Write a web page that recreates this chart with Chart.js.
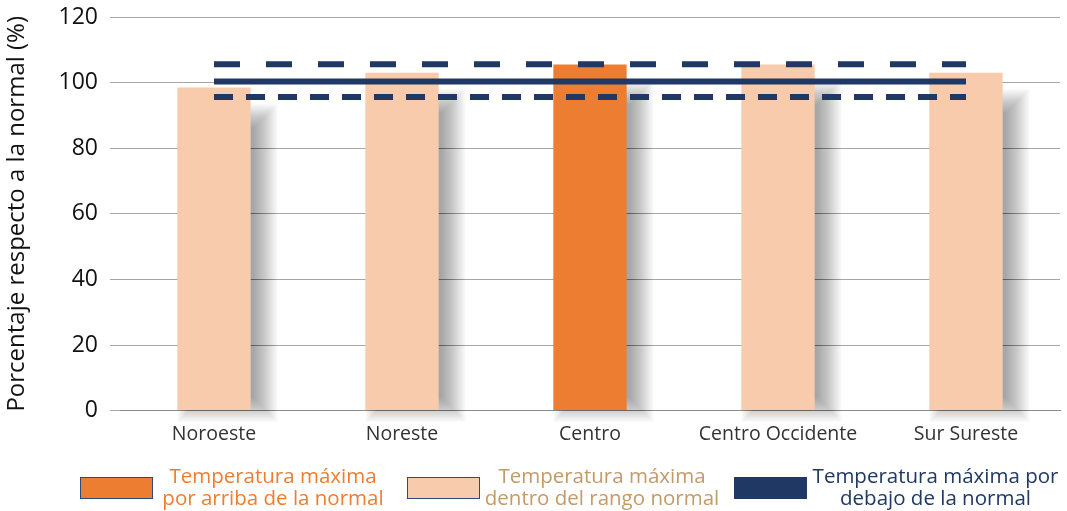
<!DOCTYPE html>
<html>
<head>
<meta charset="utf-8">
<script src="https://cdn.jsdelivr.net/npm/chart.js@4.4.1/dist/chart.umd.min.js"></script>
<style>
  html, body { margin: 0; padding: 0; background: #fff; }
  #wrap { position: relative; width: 1067px; height: 511px; }
  canvas { position: absolute; left: 0; top: 0; }
  .leg-box { position: absolute; top: 477px; width: 71px; height: 20px; border: 1px solid #2E4A7D; }
  .leg-text { position: absolute; top: 464px; font-family: "Open Sans", sans-serif; font-size: 20.5px; line-height: 22px; text-align: center; white-space: nowrap; }
</style>
</head>
<body>
<div id="wrap">
  <canvas id="c" width="1067" height="511"></canvas>
  <div class="leg-box" style="left:80px;background:#ED7D31;"></div>
  <div class="leg-text" style="left:160px;width:226px;color:#ED7D31;">Temperatura máxima<br>por arriba de la normal</div>
  <div class="leg-box" style="left:407px;background:#F8CBAD;"></div>
  <div class="leg-text" style="left:480px;width:244px;color:#C49A66;">Temperatura máxima<br>dentro del rango normal</div>
  <div class="leg-box" style="left:734px;background:#1F3864;border-color:#1F3864;"></div>
  <div class="leg-text" style="left:808px;width:255px;color:#1F3864;">Temperatura máxima por<br>debajo de la normal</div>
</div>
<script>
const categories = ["Noroeste", "Noreste", "Centro", "Centro Occidente", "Sur Sureste"];
const values = [98.5, 103, 105.5, 105.5, 103];
const status = ["dentro", "dentro", "arriba", "dentro", "dentro"];
const normalLine = [100.3, 100.3, 100.3, 100.3, 100.3];
const upperLimit = [105.6, 105.6, 105.6, 105.6, 105.6];
const lowerLimit = [95.6, 95.6, 95.6, 95.6, 95.6];
const yTicks = [0, 20, 40, 60, 80, 100, 120];

const statusColor = { arriba: "#ED7D31", dentro: "#F8CBAD", debajo: "#1F3864" };
const barColors = status.map(s => statusColor[s]);

// soft grey drop shadow behind each bar (layered translucent rects = box blur)
const shadowPlugin = {
  id: "barShadow",
  beforeDatasetsDraw(chart) {
    const meta = chart.getDatasetMeta(3);
    const ctx = chart.ctx;
    ctx.save();
    const L = 12;
    const a = 0.5 / (2 * L + 1);
    meta.data.forEach((bar) => {
      const p = bar.getProps(["x", "y", "base", "width"], true);
      const left = p.x - p.width / 2 + 12;
      const right = p.x + p.width / 2 + 15;
      const top = p.y + 28;
      const bottom = p.base;
      ctx.fillStyle = "rgba(0,0,0," + a + ")";
      for (let k = -L; k <= L; k++) {
        ctx.fillRect(left - k, top - k, (right - left) + 2 * k, (bottom - top) + 2 * k);
      }
    });
    ctx.restore();
  }
};

new Chart(document.getElementById("c"), {
  data: {
    labels: categories,
    datasets: [
      { type: "line", data: upperLimit, borderColor: "#1F3864", borderWidth: 6, borderDash: [26, 26], pointRadius: 0, order: 0 },
      { type: "line", data: normalLine, borderColor: "#1F3864", borderWidth: 6, pointRadius: 0, order: 0 },
      { type: "line", data: lowerLimit, borderColor: "#1F3864", borderWidth: 6, borderDash: [19, 13], pointRadius: 0, order: 0 },
      { type: "bar", data: values, backgroundColor: barColors, barPercentage: 0.39, categoryPercentage: 1, order: 1 }
    ]
  },
  options: {
    responsive: false,
    animation: false,
    layout: { padding: { left: 0, right: 7, top: 17, bottom: 61 } },
    plugins: { legend: { display: false }, tooltip: { enabled: false } },
    scales: {
      x: {
        grid: { display: false },
        border: { display: true, color: "#8C8C8C", width: 1 },
        ticks: { color: "#333333", font: { family: "Open Sans", size: 19.5 }, padding: 4, maxRotation: 0 }
      },
      y: {
        min: 0, max: 120,
        afterBuildTicks(scale) { scale.ticks = yTicks.map(v => ({ value: v })); },
        afterFit(scale) { scale.width = 120; scale.paddingTop = 0; scale.paddingBottom = 0; },
        grid: { color: "#A6A6A6", lineWidth: 1, tickLength: 10, drawTicks: true },
        border: { display: false },
        ticks: { color: "#111111", font: { family: "Open Sans", size: 23 }, padding: 12 },
        title: { display: true, text: "Porcentaje respecto a la normal (%)", color: "#111111", font: { family: "Open Sans", size: 24 }, padding: { top: 3, bottom: 0 } }
      }
    }
  },
  plugins: [shadowPlugin]
});
</script>
</body>
</html>
